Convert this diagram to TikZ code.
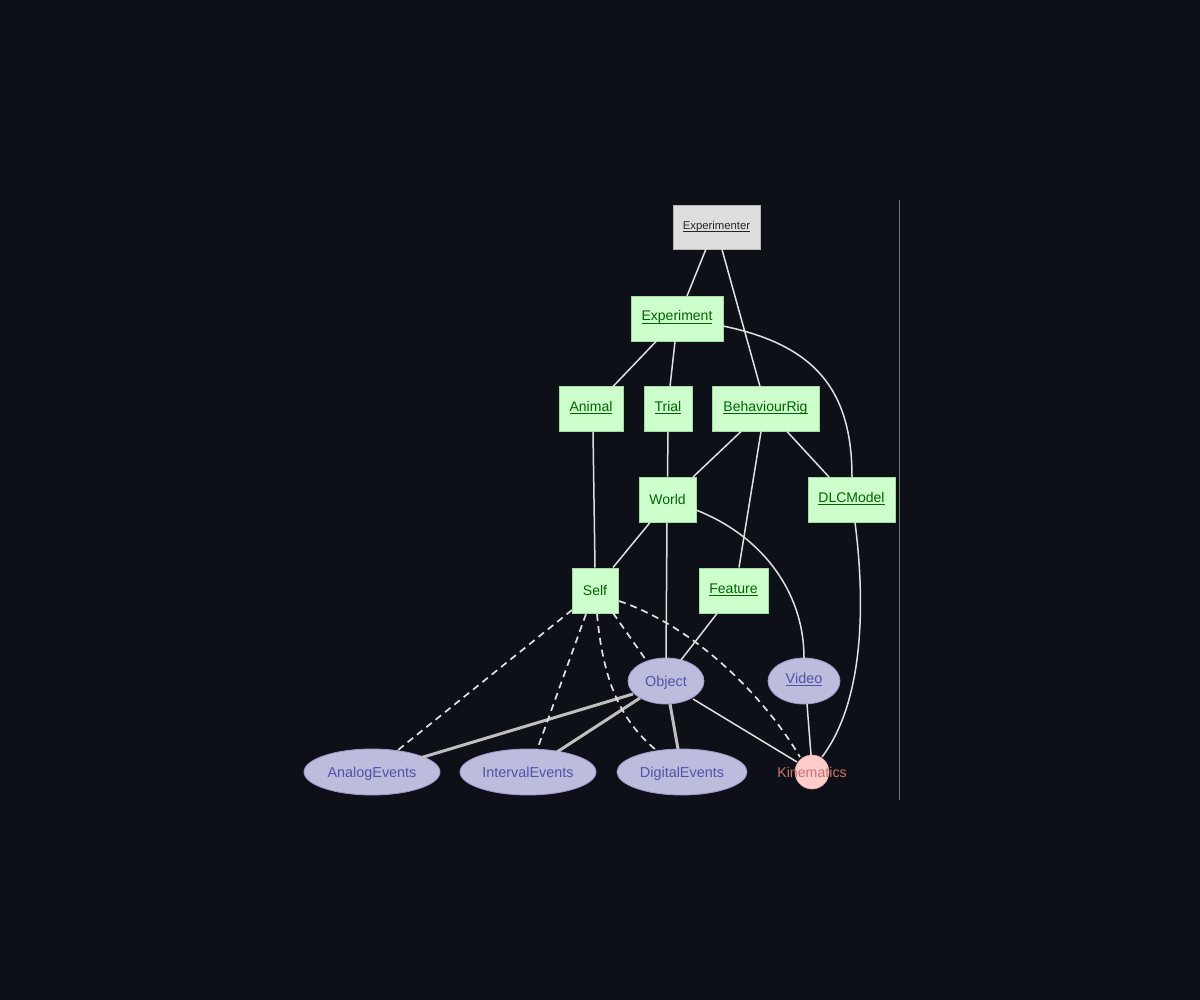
\documentclass[tikz,border=0pt]{standalone}
\usepackage{fontspec}
\setmainfont{Liberation Sans}
\definecolor{bg}{HTML}{0D1117}
\definecolor{gfill}{HTML}{CCFFCC}
\definecolor{gdraw}{HTML}{A8D8A8}
\definecolor{gtext}{HTML}{006400}
\definecolor{efill}{HTML}{BCBCDC}
\definecolor{edraw}{HTML}{9A9ACC}
\definecolor{etext}{HTML}{5252A8}
\definecolor{kfill}{HTML}{FFCCCC}
\definecolor{ktext}{HTML}{D07070}
\definecolor{edge}{HTML}{E0E0E0}
\newcommand{\ul}[1]{{\setbox0\hbox{#1}\rlap{\smash{\rule[-2.6pt]{\wd0}{1pt}}}\box0}}
\tikzset{
  plain/.style={text height=12pt,text depth=2pt},
  under/.style={text height=12pt,text depth=7pt},
  gbox/.style={rectangle,fill=gfill,draw=gdraw,line width=0.8pt,text=gtext,font=\fontsize{14}{16}\selectfont,inner sep=0pt,minimum height=45pt},
  xbox/.style={rectangle,fill=black!13,draw=black!28,line width=0.8pt,text=black!85,font=\fontsize{11.3}{13}\selectfont,inner sep=0pt,minimum height=44pt,minimum width=87pt,text height=10pt,text depth=5pt},
  ell/.style={ellipse,fill=efill,draw=edraw,line width=0.8pt,text=etext,font=\fontsize{14.4}{16}\selectfont,inner sep=0pt,minimum height=46pt},
  con/.style={draw=edge,line width=1.5pt},
  dcon/.style={draw=edge,line width=1.7pt,dash pattern=on 7pt off 5pt},
  tcon/.style={draw=black!25!white,line width=3pt},
}
\usetikzlibrary{shapes.geometric}
\begin{document}
\begin{tikzpicture}[x=1pt,y=-1pt]
\fill[bg] (0,0) rectangle (1200,1000);
\useasboundingbox (0,0) rectangle (1200,1000);
\coordinate (vt) at (899,200);
\coordinate (vb) at (899,800);
\draw[black!55,line width=0.9pt] (vt) -- (vb);

\node[xbox] (exr) at (716.5,227) {\ul{Experimenter}};
\node[gbox,under,minimum width=92pt] (exp) at (677,318.5) {\ul{Experiment}};
\node[gbox,under,minimum width=64pt] (ani) at (591,409) {\ul{Animal}};
\node[gbox,under,minimum width=48pt] (tri) at (668,409) {\ul{Trial}};
\node[gbox,under,minimum width=107pt] (rig) at (765.5,409) {\ul{BehaviourRig}};
\node[gbox,plain,minimum width=57pt] (wor) at (667.5,499.5) {World};
\node[gbox,under,minimum width=87pt] (dlc) at (851.5,499.5) {\ul{DLCModel}};
\node[gbox,plain,minimum width=46pt] (slf) at (595,590.5) {Self};
\node[gbox,under,minimum width=69pt] (fea) at (733.5,590.5) {\ul{Feature}};
\node[ell,plain,minimum width=76pt] (obj) at (666,681) {Object};
\node[ell,under,minimum width=72pt] (vid) at (804,681) {\ul{Video}};
\node[ell,plain,minimum width=136pt] (ana) at (372,772) {AnalogEvents};
\node[ell,plain,minimum width=136pt] (int) at (528,772) {IntervalEvents};
\node[ell,plain,minimum width=130pt] (dig) at (682,772) {DigitalEvents};
\node[circle,fill=kfill,draw=kfill!85!black,line width=0.6pt,minimum size=34pt,inner sep=0pt] (kin) at (812,772) {};
\node[plain,text=ktext,font=\fontsize{14.2}{16}\selectfont] (kint) at (kin) {Kinematics};

% solid edges
\draw[con] (706,249) -- (687,296);
\draw[con] (722,249.5) -- (760,386.5);
\draw[con] (656,341.5) -- (613,386.5);
\draw[con] (675,341.5) -- (670,386.5);
\draw[con] (723,326) .. controls (815,345) and (852,390) .. (852,477);
\draw[con] (tri.south) -- (wor.north);
\draw[con] (741,431.5) -- (693,477);
\draw[con] (761,431.5) -- (739,567.5);
\draw[con] (787,431.5) -- (829,477);
\draw[con] (593,431.5) -- (595,567.5);
\draw[con] (650,522.5) -- (613,567.5);
\draw[con] (667,522.5) -- (666,658);
\draw[con] (696,510) .. controls (760,535) and (804,590) .. (804,658);
\draw[con] (855,522.5) .. controls (865,600) and (865,700) .. (822,757);
\draw[con] (717,613.5) -- (681,660);
\draw[con] (807,704) -- (811,755);
\draw[con] (693,699) -- (797,762);

% thick edges
\draw[tcon] (633,694) -- (420,758);
\draw[tcon] (640,698) -- (557,752);
\draw[tcon] (670,704) -- (678,749);

% dashed edges
\draw[dcon] (572,610) -- (398,750);
\draw[dcon] (586,614) -- (537,750);
\draw[dcon] (597,614) .. controls (603,680) and (620,720) .. (656,750);
\draw[dcon] (613,613) -- (646,660);
\draw[dcon] (619,601) .. controls (690,625) and (760,690) .. (800,757);
\end{tikzpicture}
\end{document}
